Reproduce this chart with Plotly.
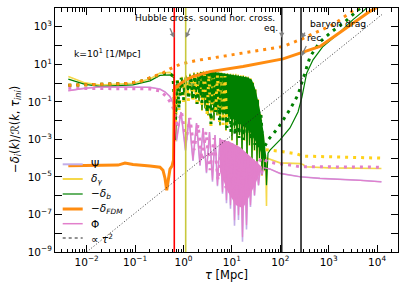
import numpy as np
import plotly.graph_objects as go

# ---------------- data (log10 tau [Mpc], log10 amplitude) ----------------
# -delta_FDM (solid, thick orange)
fdm_lt = [-2.38, -1.725, -1.353, -1.209, -1.043, -0.692, -0.486, -0.424, -0.382, -0.347, -0.310, -0.279,
          -0.238, -0.207, -0.190, -0.176, -0.134, -0.072, 0.052, 0.196, 0.548, 1.229, 2.056, 2.428, 2.820,
          3.165, 3.502, 3.853, 4.02, 4.09]
fdm_lv = [-4.41, -4.41, -4.37, -4.26, -4.34, -4.42, -4.48, -4.64, -5.07, -5.71, -5.07, -4.58,
          -4.42, -4.10, -0.36, -0.20, -0.20, -0.04, 0.17, 0.35, 0.61, 0.88, 1.29, 1.60, 1.95,
          2.57, 3.20, 3.82, 4.07, 4.30]
# second model, -delta_FDM (dotted orange)
fdm2_lt = [-2.38, -1.725, -1.167, -0.899, -0.630, -0.424, -0.279, -0.072, 0.279, 0.548, 1.229, 2.056,
           2.407, 3.089, 3.585, 3.75]
fdm2_lv = [-0.12, -0.07, -0.02, 0.08, 0.33, 0.54, 0.76, 1.00, 1.21, 1.33, 1.60, 1.95,
           2.31, 3.11, 4.00, 4.39]

# -delta_b (solid green)
bar_early_lt = [-2.38, -2.035, -1.725, -1.043, -0.692, -0.486, -0.279]
bar_early_lv = [0.21, -0.07, -0.18, -0.10, 0.12, 0.41, 0.44]
osc_lt = [-0.196, -0.165, -0.13, -0.072, -0.031, 0.010, 0.052, 0.093, 0.134, 0.176, 0.217, 0.258,
          0.290, 0.320, 0.351, 0.382, 0.413, 0.444, 0.475, 0.506, 0.537, 0.568, 0.599, 0.630,
          0.661, 0.692, 0.723, 0.754, 0.785, 0.816, 0.847, 0.878, 0.909, 0.940, 0.971, 1.002,
          1.028, 1.054, 1.080, 1.105, 1.131, 1.157, 1.183, 1.209, 1.235, 1.260, 1.286, 1.312,
          1.338, 1.364, 1.390, 1.415, 1.441, 1.467, 1.493, 1.519, 1.545, 1.570, 1.596, 1.622,
          1.648, 1.674, 1.695, 1.715]
bar_osc_lv = [0.28, -3.03, -0.10, -0.47, 0.28, -0.58, 0.38, -0.63, 0.46, -0.74, 0.52, -0.85,
              0.54, -0.95, 0.57, -1.43, 0.60, -1.33, 0.60, -1.70, 0.60, -1.54, 0.57, -1.97,
              0.57, -1.70, 0.54, -2.23, 0.52, -1.86, 0.49, -2.50, 0.49, -2.07, 0.46, -3.03,
              0.44, -2.39, 0.44, -3.30, 0.41, -2.77, 0.38, -3.84, 0.38, -3.03, 0.33, -4.10,
              0.30, -3.30, 0.22, -4.21, 0.01, -3.57, -0.36, -4.37, -0.90, -4.00, -1.70, -4.90,
              -2.77, -4.64, -3.84, -5.44]
bar_late_lt = [1.746, 1.787, 1.994, 2.200, 2.366, 2.448, 2.545, 2.676, 2.882, 3.171, 3.502, 3.709, 3.81, 4.09]
bar_late_lv = [-3.73, -3.57, -3.03, -2.39, -1.54, -0.74, 0.53, 1.24, 1.95, 2.57, 3.38, 3.82, 4.07, 5.0]
# dense core of the baryon oscillations (outline)
bar_core_lt = [0.341, 0.548, 0.754, 0.961, 1.167, 1.333, 1.415, 1.477, 1.539, 1.601, 1.663, 1.705,
               1.663, 1.581, 1.477, 1.374, 1.271, 1.126, 0.961, 0.795, 0.630, 0.486, 0.341]
bar_core_lv = [0.571, 0.597, 0.544, 0.464, 0.384, 0.303, 0.170, -0.257, -0.898, -1.699, -2.767, -3.835,
               -4.103, -3.568, -3.034, -2.607, -2.340, -2.073, -1.806, -1.539, -1.218, -0.952, -0.738]

# delta_gamma (solid yellow)
gam_early_lt = [-2.38, -2.035, -1.725, -1.043, -0.692, -0.486, -0.279]
gam_early_lv = [0.35, 0.01, -0.10, -0.01, 0.22, 0.53, 0.57]
gam_osc_lv = [0.33, -3.10, -0.05, -0.50, 0.33, -0.60, 0.43, -0.66, 0.51, -0.78, 0.57, -0.88,
              0.59, -1.00, 0.62, -1.48, 0.65, -1.38, 0.65, -1.75, 0.65, -1.60, 0.62, -2.00,
              0.62, -1.75, 0.59, -2.28, 0.57, -1.90, 0.54, -2.55, 0.54, -2.10, 0.51, -3.08,
              0.49, -2.44, 0.49, -3.35, 0.46, -2.80, 0.43, -3.90, 0.43, -3.08, 0.38, -4.15,
              0.35, -3.35, 0.27, -4.25, 0.06, -3.62, -0.31, -4.42, -0.85, -4.05, -1.65, -4.95,
              -2.72, -4.70, -3.80, -6.55]
gam_late_lt = [1.725, 1.994, 2.407, 2.48, 2.51, 3.0, 4.09]
gam_late_lv = [-4.00, -4.25, -4.29, -4.35, -4.46, -4.52, -4.55]

# second model, -delta_b and delta_gamma (dotted)
dot_lt = [-2.38, -1.725, -1.167, -0.899, -0.630, -0.424, -0.30, -0.217,
          -0.165, -0.128, -0.093, -0.045, 0.0, 0.052, 0.103, 0.151, 0.196, 0.238, 0.279, 0.331,
          0.382, 0.434, 0.486, 0.527, 0.568, 0.615, 0.661, 0.702, 0.744, 0.781, 0.816, 0.857,
          0.899, 0.940, 0.981, 1.023, 1.064, 1.105, 1.147, 1.188, 1.229, 1.271, 1.312, 1.353,
          1.395, 1.436, 1.477, 1.519, 1.560, 1.601, 1.643]
bar2_lv = [-0.12, -0.07, -0.02, 0.08, 0.33, 0.50, 0.52, 0.38,
           -1.97, 0.17, -1.33, 0.28, -0.90, 0.33, -0.85, 0.38, -0.90, 0.38, -1.11, 0.44,
           -1.06, 0.44, -1.54, 0.44, -2.18, 0.44, -1.54, 0.41, -1.97, 0.38, -2.13, 0.38,
           -2.39, 0.33, -2.61, 0.33, -2.77, 0.28, -2.93, 0.22, -3.03, 0.17, -2.77, 0.06,
           -3.03, -0.26, -3.30, -0.90, -3.46, -1.70, -3.57]
bar2_late_lt = [1.746, 1.952, 2.200, 2.366, 2.490, 2.614, 2.820, 3.089, 3.337, 3.585, 3.73, 4.09]
bar2_late_lv = [-3.03, -2.40, -1.40, -0.63, 0.40, 1.40, 2.20, 2.79, 3.27, 3.82, 4.18, 5.0]
# delta_gamma dotted: visible part before the dense region, and the late branch
gam2_lt = [-2.38, -1.725, -1.167, -0.899, -0.630, -0.424, -0.30, -0.217,
           -0.165, -0.128, -0.093, -0.045, 0.0, 0.052, 0.103, 0.151, 0.196, 0.238, 0.279, 0.331,
           0.382, 0.434, 0.486, 0.527, 0.568, 0.615, 0.661, 0.702, 0.744, 0.781, 0.816, 0.857, 0.899]
gam2_lv = [-0.12, -0.07, -0.02, 0.08, 0.33, 0.50, 0.52, 0.38,
           -2.07, 0.17, -1.43, 0.28, -1.00, 0.33, -0.95, 0.38, -1.00, 0.38, -1.21, 0.44,
           -1.16, 0.44, -1.64, 0.44, -2.28, 0.44, -1.64, 0.41, -2.07, 0.38, -2.23, 0.38, -2.49]
gam2_late_lt = [1.70, 1.952, 2.345, 2.469, 3.233, 4.09]
gam2_late_lv = [-3.55, -3.62, -3.78, -3.89, -3.94, -4.00]

# Phi (solid pink) and Psi (solid lavender)
phi_early_lt = [-2.38, -2.035, -1.725, -1.043, -0.692, -0.486, -0.382, -0.279, -0.217, -0.186]
phi_early_lv = [-0.42, -0.284, -0.204, -0.204, -0.231, -0.327, -0.471, -0.722, -1.059, -1.54]
phi_osc_lt = [-0.145, -0.052, 0.041, 0.114, 0.196, 0.269, 0.341, 0.403, 0.475, 0.537, 0.599, 0.651,
              0.702, 0.754, 0.806, 0.847, 0.888, 0.930, 0.971, 1.012, 1.054, 1.095, 1.136, 1.178,
              1.219, 1.260, 1.302, 1.343, 1.384, 1.426, 1.467, 1.508, 1.550, 1.591, 1.622, 1.653]
phi_osc_lv = [-3.034, -1.540, -3.568, -1.859, -4.103, -2.127, -4.370, -2.393, -4.744, -2.607, -5.171, -2.767,
              -5.438, -2.928, -5.812, -3.034, -6.239, -3.088, -6.506, -3.195, -7.307, -3.301, -7.041, -3.462,
              -8.216, -3.676, -7.575, -3.890, -6.506, -4.103, -5.972, -4.263, -5.438, -4.424, -4.904, -4.504]
phi_late_lt = [1.787, 1.994, 2.407, 2.82, 3.233, 3.65, 4.09]
phi_late_lv = [-4.58, -4.81, -4.99, -5.08, -5.12, -5.18, -5.26]
phi_core_lt = [0.754, 0.961, 1.167, 1.374, 1.539, 1.622, 1.539, 1.374, 1.229, 1.085, 0.920, 0.754]
phi_core_lv = [-2.982, -3.142, -3.409, -3.890, -4.317, -4.477, -5.064, -5.973, -6.667, -6.506, -5.812, -4.744]

psi_early_lv = [-0.40, -0.27, -0.195, -0.195, -0.225, -0.32, -0.465, -0.715, -1.05, -1.53]
psi_osc_lv = [-3.10, -1.54, -3.60, -1.86, -4.15, -2.13, -4.40, -2.39, -4.80, -2.61, -5.25, -2.77,
              -5.50, -2.93, -5.90, -3.03, -6.40, -3.09, -6.70, -3.20, -7.60, -3.30, -7.30, -3.46,
              -8.45, -3.68, -7.80, -3.89, -6.60, -4.10, -6.00, -4.26, -5.45, -4.42, -4.90, -4.50]

# second model, Phi (dotted pink)
phi2_lt = [-2.38, -1.725, -1.043, -0.692, -0.486, -0.341, -0.238,
           -0.196, -0.124, -0.041, 0.052, 0.134, 0.217, 0.300, 0.382, 0.465, 0.548, 0.630,
           0.713, 0.795, 0.878, 0.961, 1.043, 1.126, 1.209, 1.291, 1.374, 1.457, 1.539,
           1.60, 1.746, 1.92, 2.20, 2.407, 2.8, 3.5, 4.09]
phi2_lv = [-0.28, -0.28, -0.28, -0.31, -0.42, -0.74, -1.17,
           -1.43, -2.39, -1.54, -3.03, -1.86, -3.57, -2.23, -4.10, -2.61, -4.64, -2.93,
           -5.17, -3.30, -5.60, -3.57, -5.97, -3.73, -5.70, -3.89, -4.90, -4.00, -4.37,
           -4.00, -4.19, -4.28, -4.37, -4.46, -4.46, -4.47, -4.48]

# reference power law (end points)
tau2_lt = [-2.05, 4.10]
tau2_lv = [-9.10, 3.65]

# characteristic times [Mpc]
vline_tau = [0.645, 1.11, 107.0, 268.0]
vline_col = ["#ff0000", "#c8c83c", "#1e1e1e", "#1e1e1e"]

# ---------------- colours ----------------
C_PSI = "#c3aee8"
C_GAM = "#f5d84a"
C_GAM_DOT = "#ffd21a"
C_BAR = "#008000"
C_FDM = "#ff8c10"
C_PHI = "#e27fcb"


def v(a):
    return 10 ** np.asarray(a, dtype=float)


fig = go.Figure()


def line(lt, lv, color, width, dash=None, fill=None, name=None):
    fig.add_trace(go.Scatter(
        x=v(lt), y=v(lv), mode="lines", name=name, showlegend=False, hoverinfo="skip",
        line=dict(color=color, width=width, dash=dash),
        fill=fill, fillcolor=color if fill else None))


# solid curves
line(phi_early_lt + phi_osc_lt + phi_late_lt, psi_early_lv + psi_osc_lv + phi_late_lv, C_PSI, 1.6, name="Ψ")
line(gam_early_lt + osc_lt + gam_late_lt, gam_early_lv + gam_osc_lv + gam_late_lv, C_GAM, 1.6, name="δγ")
line(bar_core_lt, bar_core_lv, C_BAR, 0, fill="toself")
line(bar_early_lt + osc_lt + bar_late_lt, bar_early_lv + bar_osc_lv + bar_late_lv, C_BAR, 1.2, name="−δb")
line(phi_core_lt, phi_core_lv, C_PHI, 0, fill="toself")
line(phi_early_lt + phi_osc_lt + phi_late_lt, phi_early_lv + phi_osc_lv + phi_late_lv, C_PHI, 1.2, name="Φ")

# dotted curves (second model)
DOT = "3px,5px"
line(gam2_lt, gam2_lv, C_GAM_DOT, 3, dash=DOT)
line(gam2_late_lt, gam2_late_lv, C_GAM_DOT, 3, dash=DOT)
line(dot_lt + bar2_late_lt, bar2_lv + bar2_late_lv, C_BAR, 3, dash=DOT)
line(phi2_lt, phi2_lv, C_PHI, 3, dash=DOT)
line(fdm2_lt, fdm2_lv, C_FDM, 3, dash=DOT)

# FDM solid on top
line(fdm_lt, fdm_lv, C_FDM, 3, name="−δFDM")

# tau^2 guide
line(tau2_lt, tau2_lv, "#222222", 0.9, dash="1px,2px", name="∝ τ²")

# vertical markers
for t, c in zip(vline_tau, vline_col):
    fig.add_trace(go.Scatter(x=[t, t], y=[1e-12, 1e6], mode="lines", showlegend=False,
                             hoverinfo="skip", line=dict(color=c, width=1.6)))

# ---------------- layout ----------------
L, R, T, B = 55, 9, 8, 39
W, H = 407, 291
PW, PH = W - L - R, H - T - B


def px(x):
    return (x - L) / PW


def py(y):
    return (H - B - y) / PH


FONT = "DejaVu Sans"
sup = lambda e: "10<sup>" + ("−" if e < 0 else "") + str(abs(e)) + "</sup>"

xt = list(range(-2, 5))
ytv = list(range(-9, 5))
minor_x = [m * 10.0 ** k for k in range(-3, 5) for m in range(2, 10)]

axis_common = dict(showline=True, linecolor="black", linewidth=1, mirror="allticks",
                   ticks="inside", ticklen=7, tickwidth=1, tickcolor="black",
                   showgrid=False, zeroline=False, automargin=False,
                   tickfont=dict(family=FONT, size=10.5, color="black"))

fig.update_xaxes(type="log", range=[-2.655, 4.432],
                 tickvals=[10.0 ** e for e in xt], ticktext=[sup(e) for e in xt],
                 minor=dict(tickvals=minor_x, ticks="inside", ticklen=3.5, tickwidth=0.8,
                            tickcolor="black", showgrid=False),
                 **axis_common)
fig.update_yaxes(type="log", range=[-9, 4],
                 tickvals=[10.0 ** e for e in ytv],
                 ticktext=[sup(e) if e % 2 else "" for e in ytv],
                 **axis_common)

ann = []
shapes = []
# axis titles
ann.append(dict(text="<i>τ</i> [Mpc]", x=px(226.5), y=py(275), xref="paper", yref="paper",
                showarrow=False, xanchor="center", yanchor="middle",
                font=dict(family=FONT, size=11.5, color="black")))
ann.append(dict(text="−<i>δ<sub>i</sub></i>(<i>k</i>)/ℛ(<i>k</i>, <i>τ<sub>ini</sub></i>)",
                x=px(15), y=py(130), xref="paper", yref="paper", textangle=-90,
                showarrow=False, xanchor="center", yanchor="middle",
                font=dict(family=FONT, size=11.5, color="black")))
# text labels
for txt, x, y, anchor, fs in [("Hubble cross.", 165, 18, "center", 9.0),
                              ("sound hor. cross.", 236.5, 18, "center", 9.0),
                              ("eq.", 271, 27.5, "center", 9.0),
                              ("baryon drag", 338, 23.5, "center", 9.2),
                              ("rec.", 315.5, 37.5, "center", 9.2),
                              ("k=10<sup>1</sup> [1/Mpc]", 72, 53, "left", 9.2)]:
    ann.append(dict(text=txt, x=px(x), y=py(y), xref="paper", yref="paper", showarrow=False,
                    xanchor=anchor, yanchor="middle",
                    font=dict(family=FONT, size=fs, color="black")))
# arrows (heads on the vertical lines)
for tau, lv, ax, ay in [(0.645, 2.41, -5, -11), (1.11, 2.41, 5, -11), (107.0, 2.41, 0, -8),
                        (268.0, 2.39, 5, -7), (268.0, 1.415, 6, -12)]:
    ann.append(dict(text="", x=np.log10(tau), y=lv, xref="x", yref="y", showarrow=True,
                    ax=ax, ay=ay, arrowhead=2, arrowsize=0.8, arrowwidth=1.3,
                    arrowcolor="#808080", standoff=0))

# legend (manual, matplotlib-like)
leg = [("Ψ", C_PSI, 2, None), ("<i>δ<sub>γ</sub></i>", C_GAM, 2, None),
       ("−<i>δ<sub>b</sub></i>", C_BAR, 1.2, None), ("−<i>δ<sub>FDM</sub></i>", C_FDM, 3, None),
       ("Φ", C_PHI, 1.5, None), ("∝ <i>τ</i><sup>2</sup>", "#222222", 1, "dot")]
rows = [164.3, 179, 194, 209, 223.7, 238]
for (txt, col, w, d), yy in zip(leg, rows):
    shapes.append(dict(type="line", xref="paper", yref="paper", x0=px(62.7), x1=px(82.7),
                       y0=py(yy), y1=py(yy), line=dict(color=col, width=w, dash=d)))
    ann.append(dict(text=txt, x=px(89), y=py(yy), xref="paper", yref="paper", showarrow=False,
                    xanchor="left", yanchor="middle",
                    font=dict(family=FONT, size=10.5, color="black")))

fig.update_layout(width=W, height=H, margin=dict(l=L, r=R, t=T, b=B, pad=0),
                  paper_bgcolor="white", plot_bgcolor="white", showlegend=False,
                  annotations=ann, shapes=shapes, font=dict(family=FONT, color="black"))

fig.write_html("out.html", config={"displayModeBar": False},
               post_script="document.body.style.margin='0';document.body.style.padding='0';")
